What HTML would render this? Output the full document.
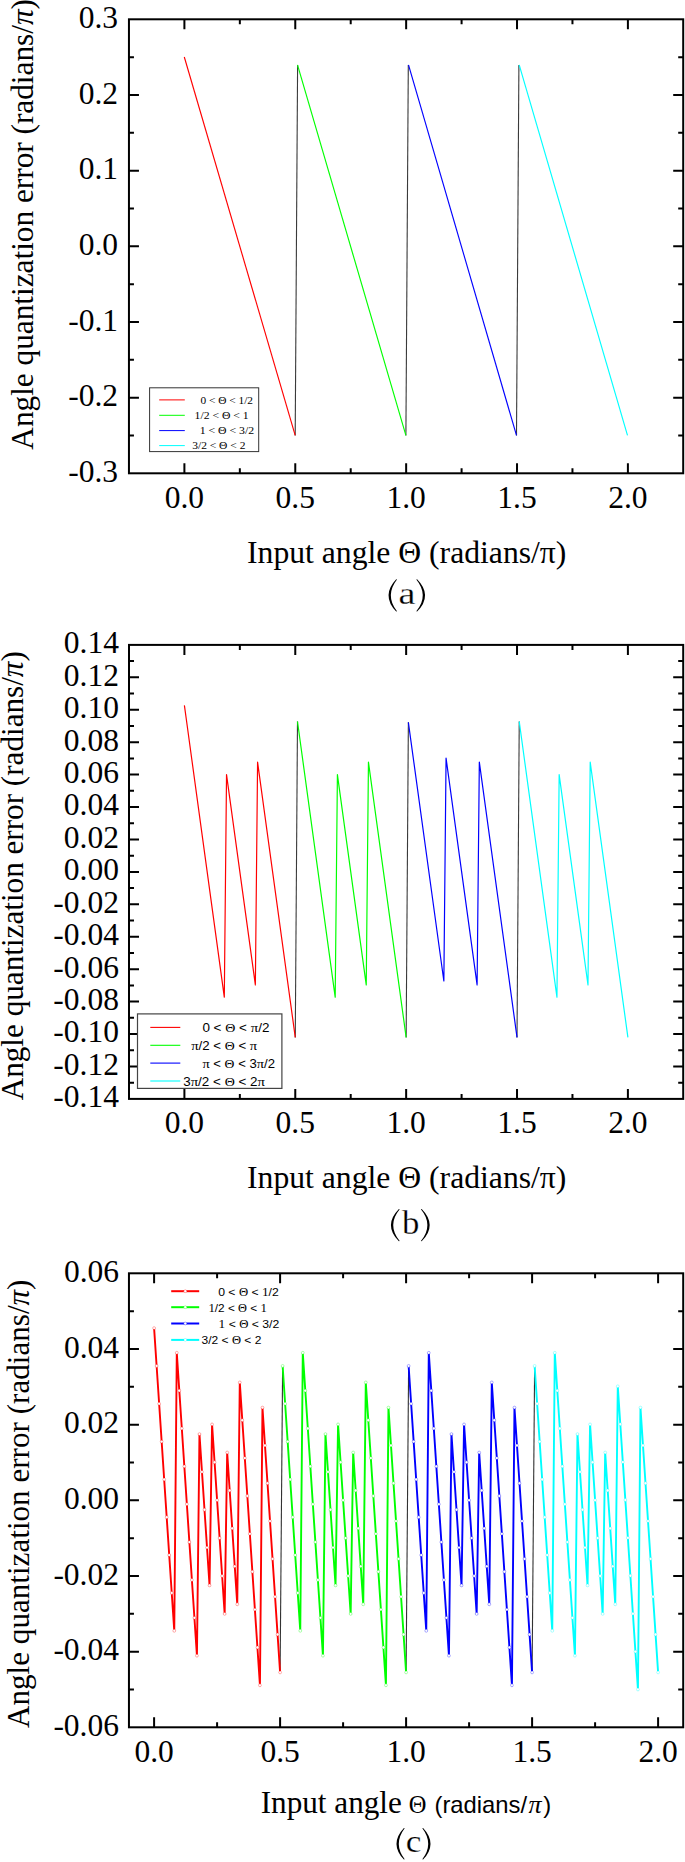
<!DOCTYPE html><html><head><meta charset="utf-8"><title>Angle quantization error</title><style>html,body{margin:0;padding:0;background:#fff;}svg{display:block;}</style></head><body>
<svg width="685" height="1862" viewBox="0 0 685 1862">
<rect width="685" height="1862" fill="#fff"/>
<rect x="128.95" y="19.3" width="554.25" height="454" fill="none" stroke="#000" stroke-width="2.0"/>
<path d="M184.4 19.3v10M184.4 473.3v-10M295.27 19.3v10M295.27 473.3v-10M406.15 19.3v10M406.15 473.3v-10M517.02 19.3v10M517.02 473.3v-10M627.9 19.3v10M627.9 473.3v-10M239.84 19.3v5M239.84 473.3v-5M350.71 19.3v5M350.71 473.3v-5M461.59 19.3v5M461.59 473.3v-5M572.46 19.3v5M572.46 473.3v-5M128.95 397.63h10M683.2 397.63h-10M128.95 321.97h10M683.2 321.97h-10M128.95 246.3h10M683.2 246.3h-10M128.95 170.63h10M683.2 170.63h-10M128.95 94.97h10M683.2 94.97h-10M128.95 435.47h5M683.2 435.47h-5M128.95 359.8h5M683.2 359.8h-5M128.95 284.13h5M683.2 284.13h-5M128.95 208.47h5M683.2 208.47h-5M128.95 132.8h5M683.2 132.8h-5M128.95 57.13h5M683.2 57.13h-5" stroke="#000" stroke-width="2.0" fill="none"/>
<g font-family="Liberation Serif, serif" font-size="31.5" fill="#000"><text x="118.1" y="482" text-anchor="end">-0.3</text><text x="118.1" y="406.33" text-anchor="end">-0.2</text><text x="118.1" y="330.67" text-anchor="end">-0.1</text><text x="118.1" y="255" text-anchor="end">0.0</text><text x="118.1" y="179.33" text-anchor="end">0.1</text><text x="118.1" y="103.67" text-anchor="end">0.2</text><text x="118.1" y="28" text-anchor="end">0.3</text></g>
<g font-family="Liberation Serif, serif" font-size="31.5" fill="#000"><text x="184.4" y="508.3" text-anchor="middle">0.0</text><text x="295.27" y="508.3" text-anchor="middle">0.5</text><text x="406.15" y="508.3" text-anchor="middle">1.0</text><text x="517.02" y="508.3" text-anchor="middle">1.5</text><text x="627.9" y="508.3" text-anchor="middle">2.0</text></g>
<text transform="translate(32.5 449.7) rotate(-90)" font-family="Liberation Serif, serif" font-size="31.3" textLength="450.7" lengthAdjust="spacingAndGlyphs">Angle quantization error (radians/<tspan font-style="italic">&#960;</tspan>)</text>
<text x="247.0" y="562.8" font-family="Liberation Serif, serif" font-size="32.5" textLength="319.4" lengthAdjust="spacingAndGlyphs">Input angle &#920; (radians/&#960;)</text>
<path d="M396.2 579.2 Q380.8 595.4 396.2 611.6 L397 611.3 Q384.6 595.4 397 579.5 Z" fill="#000"/><path d="M417.1 579.2 Q433.1 595.4 417.1 611.6 L416.3 611.3 Q429.3 595.4 416.3 579.5 Z" fill="#000"/><text transform="translate(398.5 603.6) scale(1.19 1)" font-family="Liberation Serif, serif" font-size="32.1" fill="#000" stroke="#fff" stroke-width="0.25">a</text>
<line x1="295.2" y1="435.4" x2="297.6" y2="64.9" stroke="#3a3a3a" stroke-width="1.1"/>
<line x1="405.9" y1="435.4" x2="408.3" y2="64.9" stroke="#3a3a3a" stroke-width="1.1"/>
<line x1="516.5" y1="435.4" x2="518.9" y2="64.9" stroke="#3a3a3a" stroke-width="1.1"/>
<polyline points="184.3,57 295.2,435.4" fill="none" stroke="#ff0000" stroke-width="1.15" stroke-linejoin="round"/>
<polyline points="297.5,64.9 405.9,435.4" fill="none" stroke="#00ff00" stroke-width="1.15" stroke-linejoin="round"/>
<polyline points="408.5,64.9 516.5,435.4" fill="none" stroke="#0000ff" stroke-width="1.15" stroke-linejoin="round"/>
<polyline points="519.2,64.9 627.5,435.4" fill="none" stroke="#00ffff" stroke-width="1.15" stroke-linejoin="round"/>
<rect x="149.6" y="387.8" width="109.1" height="63.8" fill="#fff" stroke="#333" stroke-width="1"/>
<line x1="159.2" y1="399.9" x2="184.8" y2="399.9" stroke="#ff0000" stroke-width="1.0"/>
<line x1="159.2" y1="415.3" x2="184.8" y2="415.3" stroke="#00ff00" stroke-width="1.0"/>
<line x1="159.2" y1="430.6" x2="184.8" y2="430.6" stroke="#0000ff" stroke-width="1.0"/>
<line x1="159.2" y1="445.6" x2="184.8" y2="445.6" stroke="#00ffff" stroke-width="1.0"/>
<text x="200.4" y="403.7" font-family="Liberation Serif, serif" font-size="11" textLength="52.6" lengthAdjust="spacingAndGlyphs">0 &lt; &#920; &lt; 1/2</text>
<text x="194.6" y="419.1" font-family="Liberation Serif, serif" font-size="11" textLength="54.1" lengthAdjust="spacingAndGlyphs">1/2 &lt; &#920; &lt; 1</text>
<text x="199.7" y="434.4" font-family="Liberation Serif, serif" font-size="11" textLength="54.4" lengthAdjust="spacingAndGlyphs">1 &lt; &#920; &lt; 3/2</text>
<text x="192.2" y="449.4" font-family="Liberation Serif, serif" font-size="11" textLength="53.2" lengthAdjust="spacingAndGlyphs">3/2 &lt; &#920; &lt; 2</text>
<rect x="129" y="644.9" width="554.2" height="454" fill="none" stroke="#000" stroke-width="2.0"/>
<path d="M184.4 644.9v10M184.4 1098.9v-10M295.27 644.9v10M295.27 1098.9v-10M406.15 644.9v10M406.15 1098.9v-10M517.02 644.9v10M517.02 1098.9v-10M627.9 644.9v10M627.9 1098.9v-10M239.84 644.9v5M239.84 1098.9v-5M350.71 644.9v5M350.71 1098.9v-5M461.59 644.9v5M461.59 1098.9v-5M572.46 644.9v5M572.46 1098.9v-5M129 1066.47h10M683.2 1066.47h-10M129 1034.04h10M683.2 1034.04h-10M129 1001.61h10M683.2 1001.61h-10M129 969.19h10M683.2 969.19h-10M129 936.76h10M683.2 936.76h-10M129 904.33h10M683.2 904.33h-10M129 871.9h10M683.2 871.9h-10M129 839.47h10M683.2 839.47h-10M129 807.04h10M683.2 807.04h-10M129 774.61h10M683.2 774.61h-10M129 742.19h10M683.2 742.19h-10M129 709.76h10M683.2 709.76h-10M129 677.33h10M683.2 677.33h-10M129 1082.69h5M683.2 1082.69h-5M129 1050.26h5M683.2 1050.26h-5M129 1017.83h5M683.2 1017.83h-5M129 985.4h5M683.2 985.4h-5M129 952.97h5M683.2 952.97h-5M129 920.54h5M683.2 920.54h-5M129 888.11h5M683.2 888.11h-5M129 855.69h5M683.2 855.69h-5M129 823.26h5M683.2 823.26h-5M129 790.83h5M683.2 790.83h-5M129 758.4h5M683.2 758.4h-5M129 725.97h5M683.2 725.97h-5M129 693.54h5M683.2 693.54h-5M129 661.11h5M683.2 661.11h-5" stroke="#000" stroke-width="2.0" fill="none"/>
<g font-family="Liberation Serif, serif" font-size="31.5" fill="#000"><text x="118.9" y="1107.3" text-anchor="end">-0.14</text><text x="118.9" y="1074.87" text-anchor="end">-0.12</text><text x="118.9" y="1042.44" text-anchor="end">-0.10</text><text x="118.9" y="1010.01" text-anchor="end">-0.08</text><text x="118.9" y="977.59" text-anchor="end">-0.06</text><text x="118.9" y="945.16" text-anchor="end">-0.04</text><text x="118.9" y="912.73" text-anchor="end">-0.02</text><text x="118.9" y="880.3" text-anchor="end">0.00</text><text x="118.9" y="847.87" text-anchor="end">0.02</text><text x="118.9" y="815.44" text-anchor="end">0.04</text><text x="118.9" y="783.01" text-anchor="end">0.06</text><text x="118.9" y="750.59" text-anchor="end">0.08</text><text x="118.9" y="718.16" text-anchor="end">0.10</text><text x="118.9" y="685.73" text-anchor="end">0.12</text><text x="118.9" y="653.3" text-anchor="end">0.14</text></g>
<g font-family="Liberation Serif, serif" font-size="31.5" fill="#000"><text x="184.4" y="1133" text-anchor="middle">0.0</text><text x="295.27" y="1133" text-anchor="middle">0.5</text><text x="406.15" y="1133" text-anchor="middle">1.0</text><text x="517.02" y="1133" text-anchor="middle">1.5</text><text x="627.9" y="1133" text-anchor="middle">2.0</text></g>
<text transform="translate(23.4 1100.3) rotate(-90)" font-family="Liberation Serif, serif" font-size="31.3" textLength="449.2" lengthAdjust="spacingAndGlyphs">Angle quantization error (radians/<tspan font-style="italic">&#960;</tspan>)</text>
<text x="247.0" y="1188.2" font-family="Liberation Serif, serif" font-size="32.5" textLength="319.4" lengthAdjust="spacingAndGlyphs">Input angle &#920; (radians/&#960;)</text>
<path d="M398.9 1208.9 Q382.9 1225.1 398.9 1241.3 L399.7 1241 Q386.7 1225.1 399.7 1209.2 Z" fill="#000"/><path d="M421.7 1208.9 Q437.7 1225.1 421.7 1241.3 L420.9 1241 Q433.9 1225.1 420.9 1209.2 Z" fill="#000"/><text transform="translate(402.1 1233.6) scale(1.06 1)" font-family="Liberation Serif, serif" font-size="32.8" fill="#000" stroke="#fff" stroke-width="0.25">b</text>
<line x1="295.27" y1="1037.4" x2="297.49" y2="721.52" stroke="#3a3a3a" stroke-width="1.1"/>
<line x1="406.15" y1="1037.4" x2="408.37" y2="722.3" stroke="#3a3a3a" stroke-width="1.1"/>
<line x1="517.02" y1="1037.4" x2="519.24" y2="721.52" stroke="#3a3a3a" stroke-width="1.1"/>
<polyline points="184.4,705.3 186.62,721.52 224.31,997.2 226.53,774.6 255.36,984.9 257.58,762.2 295.27,1037.4" fill="none" stroke="#ff0000" stroke-width="1.2" stroke-linejoin="round"/>
<polyline points="297.49,721.52 335.19,997.2 337.41,774.6 366.24,984.9 368.45,762.2 406.15,1037.4" fill="none" stroke="#00ff00" stroke-width="1.2" stroke-linejoin="round"/>
<polyline points="408.37,722.3 443.85,981 446.06,758.1 477.11,984.9 479.33,762.2 517.02,1037.4" fill="none" stroke="#0000ff" stroke-width="1.2" stroke-linejoin="round"/>
<polyline points="519.24,721.52 556.94,997.2 559.16,774.6 587.99,984.9 590.2,762.2 627.9,1037.4" fill="none" stroke="#00ffff" stroke-width="1.2" stroke-linejoin="round"/>
<rect x="137.5" y="1013.9" width="144.4" height="74.5" fill="#fff" stroke="#444" stroke-width="1.2"/>
<line x1="150.3" y1="1027.4" x2="180.3" y2="1027.4" stroke="#ff0000" stroke-width="1.1"/>
<line x1="150.3" y1="1045.3" x2="180.3" y2="1045.3" stroke="#00ff00" stroke-width="1.1"/>
<line x1="150.3" y1="1063.1" x2="180.3" y2="1063.1" stroke="#0000ff" stroke-width="1.1"/>
<line x1="150.3" y1="1081" x2="180.3" y2="1081" stroke="#00ffff" stroke-width="1.1"/>
<text x="202.4" y="1031.9" font-family="Liberation Sans, sans-serif" font-size="12.3" textLength="67" lengthAdjust="spacingAndGlyphs">0 &lt; <tspan font-family="Liberation Serif, serif" font-size="12.8">&#920;</tspan> &lt; <tspan font-family="Liberation Serif, serif" font-size="13.5">&#960;</tspan>/2</text>
<text x="191.2" y="1049.8" font-family="Liberation Sans, sans-serif" font-size="12.3" textLength="66" lengthAdjust="spacingAndGlyphs"><tspan font-family="Liberation Serif, serif" font-size="13.5">&#960;</tspan>/2 &lt; <tspan font-family="Liberation Serif, serif" font-size="12.8">&#920;</tspan> &lt; <tspan font-family="Liberation Serif, serif" font-size="13.5">&#960;</tspan></text>
<text x="202.4" y="1067.6" font-family="Liberation Sans, sans-serif" font-size="12.3" textLength="72.6" lengthAdjust="spacingAndGlyphs"><tspan font-family="Liberation Serif, serif" font-size="13.5">&#960;</tspan> &lt; <tspan font-family="Liberation Serif, serif" font-size="12.8">&#920;</tspan> &lt; 3<tspan font-family="Liberation Serif, serif" font-size="13.5">&#960;</tspan>/2</text>
<text x="183.2" y="1085.5" font-family="Liberation Sans, sans-serif" font-size="12.3" textLength="81.8" lengthAdjust="spacingAndGlyphs">3<tspan font-family="Liberation Serif, serif" font-size="13.5">&#960;</tspan>/2 &lt; <tspan font-family="Liberation Serif, serif" font-size="12.8">&#920;</tspan> &lt; 2<tspan font-family="Liberation Serif, serif" font-size="13.5">&#960;</tspan></text>
<rect x="128.95" y="1273.3" width="554.25" height="454" fill="none" stroke="#000" stroke-width="2.0"/>
<path d="M154.1 1273.3v10M154.1 1727.3v-10M280.1 1273.3v10M280.1 1727.3v-10M406.1 1273.3v10M406.1 1727.3v-10M532.1 1273.3v10M532.1 1727.3v-10M658.1 1273.3v10M658.1 1727.3v-10M217.1 1273.3v5M217.1 1727.3v-5M343.1 1273.3v5M343.1 1727.3v-5M469.1 1273.3v5M469.1 1727.3v-5M595.1 1273.3v5M595.1 1727.3v-5M128.95 1651.63h10M683.2 1651.63h-10M128.95 1575.97h10M683.2 1575.97h-10M128.95 1500.3h10M683.2 1500.3h-10M128.95 1424.63h10M683.2 1424.63h-10M128.95 1348.97h10M683.2 1348.97h-10M128.95 1689.47h5M683.2 1689.47h-5M128.95 1613.8h5M683.2 1613.8h-5M128.95 1538.13h5M683.2 1538.13h-5M128.95 1462.47h5M683.2 1462.47h-5M128.95 1386.8h5M683.2 1386.8h-5M128.95 1311.13h5M683.2 1311.13h-5" stroke="#000" stroke-width="2.0" fill="none"/>
<g font-family="Liberation Serif, serif" font-size="31.5" fill="#000"><text x="119" y="1736" text-anchor="end">-0.06</text><text x="119" y="1660.33" text-anchor="end">-0.04</text><text x="119" y="1584.67" text-anchor="end">-0.02</text><text x="119" y="1509" text-anchor="end">0.00</text><text x="119" y="1433.33" text-anchor="end">0.02</text><text x="119" y="1357.67" text-anchor="end">0.04</text><text x="119" y="1282" text-anchor="end">0.06</text></g>
<g font-family="Liberation Serif, serif" font-size="31.5" fill="#000"><text x="154.1" y="1761.5" text-anchor="middle">0.0</text><text x="280.1" y="1761.5" text-anchor="middle">0.5</text><text x="406.1" y="1761.5" text-anchor="middle">1.0</text><text x="532.1" y="1761.5" text-anchor="middle">1.5</text><text x="658.1" y="1761.5" text-anchor="middle">2.0</text></g>
<text transform="translate(29.2 1728) rotate(-90)" font-family="Liberation Serif, serif" font-size="31.3" textLength="448.5" lengthAdjust="spacingAndGlyphs">Angle quantization error (radians/<tspan font-style="italic">&#960;</tspan>)</text>
<text x="260.7" y="1812.7" font-family="Liberation Serif, serif" font-size="31.2">Input angle</text>
<text x="408.8" y="1812.7" font-family="Liberation Serif, serif" font-size="24.5">&#920;</text>
<text x="434.5" y="1812.7" font-family="Liberation Sans, sans-serif" font-size="23.8">(radians/<tspan dx="1.5" font-family="Liberation Serif, serif" font-style="italic" font-size="26">&#960;</tspan><tspan dx="1.5">)</tspan></text>
<path d="M403.9 1827.9 Q389.1 1843.75 403.9 1859.6 L404.7 1859.3 Q392.9 1843.75 404.7 1828.2 Z" fill="#000"/><path d="M423.1 1827.9 Q437.9 1843.75 423.1 1859.6 L422.3 1859.3 Q434.1 1843.75 422.3 1828.2 Z" fill="#000"/><text transform="translate(405.8 1852.3) scale(1.096 1)" font-family="Liberation Serif, serif" font-size="32.1" fill="#000" stroke="#fff" stroke-width="0.25">c</text>
<line x1="280.1" y1="1672.4" x2="282.62" y2="1365.94" stroke="#333" stroke-width="1.1"/>
<line x1="406.1" y1="1672.4" x2="408.62" y2="1365.94" stroke="#333" stroke-width="1.1"/>
<line x1="532.1" y1="1672.4" x2="534.62" y2="1365.94" stroke="#333" stroke-width="1.1"/>
<polyline points="154.1,1328.1 156.62,1365.94 159.14,1403.77 161.66,1441.61 164.18,1479.45 166.7,1517.29 169.22,1555.12 171.74,1592.96 174.26,1630.8 176.78,1352.8 179.3,1390.66 181.82,1428.53 184.34,1466.39 186.86,1504.25 189.38,1542.11 191.9,1579.97 194.42,1617.84 196.94,1655.7 199.46,1434.1 201.98,1471.92 204.5,1509.75 207.02,1547.58 209.54,1585.4 212.06,1424.4 214.58,1462.3 217.1,1500.2 219.62,1538.1 222.14,1576 224.66,1613.9 227.18,1452.5 229.7,1490.45 232.22,1528.4 234.74,1566.35 237.26,1604.3 239.78,1382.4 242.3,1420.26 244.82,1458.12 247.34,1495.99 249.86,1533.85 252.38,1571.71 254.9,1609.58 257.42,1647.44 259.94,1685.3 262.46,1407.6 264.98,1445.43 267.5,1483.26 270.02,1521.09 272.54,1558.91 275.06,1596.74 277.58,1634.57 280.1,1672.4" fill="none" stroke="#ff0000" stroke-width="1.9" stroke-linejoin="round"/>
<polyline points="282.62,1365.94 285.14,1403.77 287.66,1441.61 290.18,1479.45 292.7,1517.29 295.22,1555.12 297.74,1592.96 300.26,1630.8 302.78,1352.8 305.3,1390.66 307.82,1428.53 310.34,1466.39 312.86,1504.25 315.38,1542.11 317.9,1579.97 320.42,1617.84 322.94,1655.7 325.46,1434.1 327.98,1471.92 330.5,1509.75 333.02,1547.58 335.54,1585.4 338.06,1424.4 340.58,1462.3 343.1,1500.2 345.62,1538.1 348.14,1576 350.66,1613.9 353.18,1452.5 355.7,1490.45 358.22,1528.4 360.74,1566.35 363.26,1604.3 365.78,1382.4 368.3,1420.26 370.82,1458.12 373.34,1495.99 375.86,1533.85 378.38,1571.71 380.9,1609.58 383.42,1647.44 385.94,1685.3 388.46,1407.6 390.98,1445.43 393.5,1483.26 396.02,1521.09 398.54,1558.91 401.06,1596.74 403.58,1634.57 406.1,1672.4" fill="none" stroke="#00ff00" stroke-width="1.9" stroke-linejoin="round"/>
<polyline points="408.62,1365.94 411.14,1403.77 413.66,1441.61 416.18,1479.45 418.7,1517.29 421.22,1555.12 423.74,1592.96 426.26,1630.8 428.78,1352.8 431.3,1390.66 433.82,1428.53 436.34,1466.39 438.86,1504.25 441.38,1542.11 443.9,1579.97 446.42,1617.84 448.94,1655.7 451.46,1434.1 453.98,1471.92 456.5,1509.75 459.02,1547.58 461.54,1585.4 464.06,1424.4 466.58,1462.3 469.1,1500.2 471.62,1538.1 474.14,1576 476.66,1613.9 479.18,1452.5 481.7,1490.45 484.22,1528.4 486.74,1566.35 489.26,1604.3 491.78,1382.4 494.3,1420.26 496.82,1458.12 499.34,1495.99 501.86,1533.85 504.38,1571.71 506.9,1609.58 509.42,1647.44 511.94,1685.3 514.46,1407.6 516.98,1445.43 519.5,1483.26 522.02,1521.09 524.54,1558.91 527.06,1596.74 529.58,1634.57 532.1,1672.4" fill="none" stroke="#0000ff" stroke-width="1.9" stroke-linejoin="round"/>
<polyline points="534.62,1365.94 537.14,1403.77 539.66,1441.61 542.18,1479.45 544.7,1517.29 547.22,1555.12 549.74,1592.96 552.26,1630.8 554.78,1352.8 557.3,1390.66 559.82,1428.53 562.34,1466.39 564.86,1504.25 567.38,1542.11 569.9,1579.97 572.42,1617.84 574.94,1655.7 577.46,1434.1 579.98,1471.92 582.5,1509.75 585.02,1547.58 587.54,1585.4 590.06,1424.4 592.58,1462.3 595.1,1500.2 597.62,1538.1 600.14,1576 602.66,1613.9 605.18,1452.5 607.7,1490.45 610.22,1528.4 612.74,1566.35 615.26,1604.3 617.78,1386.3 620.3,1424.2 622.82,1462.1 625.34,1500 627.86,1537.9 630.38,1575.8 632.9,1613.7 635.42,1651.6 637.94,1689.5 640.46,1407.6 642.98,1445.43 645.5,1483.26 648.02,1521.09 650.54,1558.91 653.06,1596.74 655.58,1634.57 658.1,1672.4" fill="none" stroke="#00ffff" stroke-width="1.9" stroke-linejoin="round"/>
<g fill="#fff" stroke="#ff0000" stroke-width="0.5" stroke-opacity="0.6"><circle cx="154.1" cy="1328.1" r="1.45"/><circle cx="156.62" cy="1365.94" r="1.45"/><circle cx="159.14" cy="1403.77" r="1.45"/><circle cx="161.66" cy="1441.61" r="1.45"/><circle cx="164.18" cy="1479.45" r="1.45"/><circle cx="166.7" cy="1517.29" r="1.45"/><circle cx="169.22" cy="1555.12" r="1.45"/><circle cx="171.74" cy="1592.96" r="1.45"/><circle cx="174.26" cy="1630.8" r="1.45"/><circle cx="176.78" cy="1352.8" r="1.45"/><circle cx="179.3" cy="1390.66" r="1.45"/><circle cx="181.82" cy="1428.53" r="1.45"/><circle cx="184.34" cy="1466.39" r="1.45"/><circle cx="186.86" cy="1504.25" r="1.45"/><circle cx="189.38" cy="1542.11" r="1.45"/><circle cx="191.9" cy="1579.97" r="1.45"/><circle cx="194.42" cy="1617.84" r="1.45"/><circle cx="196.94" cy="1655.7" r="1.45"/><circle cx="199.46" cy="1434.1" r="1.45"/><circle cx="201.98" cy="1471.92" r="1.45"/><circle cx="204.5" cy="1509.75" r="1.45"/><circle cx="207.02" cy="1547.58" r="1.45"/><circle cx="209.54" cy="1585.4" r="1.45"/><circle cx="212.06" cy="1424.4" r="1.45"/><circle cx="214.58" cy="1462.3" r="1.45"/><circle cx="217.1" cy="1500.2" r="1.45"/><circle cx="219.62" cy="1538.1" r="1.45"/><circle cx="222.14" cy="1576" r="1.45"/><circle cx="224.66" cy="1613.9" r="1.45"/><circle cx="227.18" cy="1452.5" r="1.45"/><circle cx="229.7" cy="1490.45" r="1.45"/><circle cx="232.22" cy="1528.4" r="1.45"/><circle cx="234.74" cy="1566.35" r="1.45"/><circle cx="237.26" cy="1604.3" r="1.45"/><circle cx="239.78" cy="1382.4" r="1.45"/><circle cx="242.3" cy="1420.26" r="1.45"/><circle cx="244.82" cy="1458.12" r="1.45"/><circle cx="247.34" cy="1495.99" r="1.45"/><circle cx="249.86" cy="1533.85" r="1.45"/><circle cx="252.38" cy="1571.71" r="1.45"/><circle cx="254.9" cy="1609.58" r="1.45"/><circle cx="257.42" cy="1647.44" r="1.45"/><circle cx="259.94" cy="1685.3" r="1.45"/><circle cx="262.46" cy="1407.6" r="1.45"/><circle cx="264.98" cy="1445.43" r="1.45"/><circle cx="267.5" cy="1483.26" r="1.45"/><circle cx="270.02" cy="1521.09" r="1.45"/><circle cx="272.54" cy="1558.91" r="1.45"/><circle cx="275.06" cy="1596.74" r="1.45"/><circle cx="277.58" cy="1634.57" r="1.45"/><circle cx="280.1" cy="1672.4" r="1.45"/></g>
<g fill="#fff" stroke="#00ff00" stroke-width="0.5" stroke-opacity="0.6"><circle cx="282.62" cy="1365.94" r="1.45"/><circle cx="285.14" cy="1403.77" r="1.45"/><circle cx="287.66" cy="1441.61" r="1.45"/><circle cx="290.18" cy="1479.45" r="1.45"/><circle cx="292.7" cy="1517.29" r="1.45"/><circle cx="295.22" cy="1555.12" r="1.45"/><circle cx="297.74" cy="1592.96" r="1.45"/><circle cx="300.26" cy="1630.8" r="1.45"/><circle cx="302.78" cy="1352.8" r="1.45"/><circle cx="305.3" cy="1390.66" r="1.45"/><circle cx="307.82" cy="1428.53" r="1.45"/><circle cx="310.34" cy="1466.39" r="1.45"/><circle cx="312.86" cy="1504.25" r="1.45"/><circle cx="315.38" cy="1542.11" r="1.45"/><circle cx="317.9" cy="1579.97" r="1.45"/><circle cx="320.42" cy="1617.84" r="1.45"/><circle cx="322.94" cy="1655.7" r="1.45"/><circle cx="325.46" cy="1434.1" r="1.45"/><circle cx="327.98" cy="1471.92" r="1.45"/><circle cx="330.5" cy="1509.75" r="1.45"/><circle cx="333.02" cy="1547.58" r="1.45"/><circle cx="335.54" cy="1585.4" r="1.45"/><circle cx="338.06" cy="1424.4" r="1.45"/><circle cx="340.58" cy="1462.3" r="1.45"/><circle cx="343.1" cy="1500.2" r="1.45"/><circle cx="345.62" cy="1538.1" r="1.45"/><circle cx="348.14" cy="1576" r="1.45"/><circle cx="350.66" cy="1613.9" r="1.45"/><circle cx="353.18" cy="1452.5" r="1.45"/><circle cx="355.7" cy="1490.45" r="1.45"/><circle cx="358.22" cy="1528.4" r="1.45"/><circle cx="360.74" cy="1566.35" r="1.45"/><circle cx="363.26" cy="1604.3" r="1.45"/><circle cx="365.78" cy="1382.4" r="1.45"/><circle cx="368.3" cy="1420.26" r="1.45"/><circle cx="370.82" cy="1458.12" r="1.45"/><circle cx="373.34" cy="1495.99" r="1.45"/><circle cx="375.86" cy="1533.85" r="1.45"/><circle cx="378.38" cy="1571.71" r="1.45"/><circle cx="380.9" cy="1609.58" r="1.45"/><circle cx="383.42" cy="1647.44" r="1.45"/><circle cx="385.94" cy="1685.3" r="1.45"/><circle cx="388.46" cy="1407.6" r="1.45"/><circle cx="390.98" cy="1445.43" r="1.45"/><circle cx="393.5" cy="1483.26" r="1.45"/><circle cx="396.02" cy="1521.09" r="1.45"/><circle cx="398.54" cy="1558.91" r="1.45"/><circle cx="401.06" cy="1596.74" r="1.45"/><circle cx="403.58" cy="1634.57" r="1.45"/><circle cx="406.1" cy="1672.4" r="1.45"/></g>
<g fill="#fff" stroke="#0000ff" stroke-width="0.5" stroke-opacity="0.6"><circle cx="408.62" cy="1365.94" r="1.45"/><circle cx="411.14" cy="1403.77" r="1.45"/><circle cx="413.66" cy="1441.61" r="1.45"/><circle cx="416.18" cy="1479.45" r="1.45"/><circle cx="418.7" cy="1517.29" r="1.45"/><circle cx="421.22" cy="1555.12" r="1.45"/><circle cx="423.74" cy="1592.96" r="1.45"/><circle cx="426.26" cy="1630.8" r="1.45"/><circle cx="428.78" cy="1352.8" r="1.45"/><circle cx="431.3" cy="1390.66" r="1.45"/><circle cx="433.82" cy="1428.53" r="1.45"/><circle cx="436.34" cy="1466.39" r="1.45"/><circle cx="438.86" cy="1504.25" r="1.45"/><circle cx="441.38" cy="1542.11" r="1.45"/><circle cx="443.9" cy="1579.97" r="1.45"/><circle cx="446.42" cy="1617.84" r="1.45"/><circle cx="448.94" cy="1655.7" r="1.45"/><circle cx="451.46" cy="1434.1" r="1.45"/><circle cx="453.98" cy="1471.92" r="1.45"/><circle cx="456.5" cy="1509.75" r="1.45"/><circle cx="459.02" cy="1547.58" r="1.45"/><circle cx="461.54" cy="1585.4" r="1.45"/><circle cx="464.06" cy="1424.4" r="1.45"/><circle cx="466.58" cy="1462.3" r="1.45"/><circle cx="469.1" cy="1500.2" r="1.45"/><circle cx="471.62" cy="1538.1" r="1.45"/><circle cx="474.14" cy="1576" r="1.45"/><circle cx="476.66" cy="1613.9" r="1.45"/><circle cx="479.18" cy="1452.5" r="1.45"/><circle cx="481.7" cy="1490.45" r="1.45"/><circle cx="484.22" cy="1528.4" r="1.45"/><circle cx="486.74" cy="1566.35" r="1.45"/><circle cx="489.26" cy="1604.3" r="1.45"/><circle cx="491.78" cy="1382.4" r="1.45"/><circle cx="494.3" cy="1420.26" r="1.45"/><circle cx="496.82" cy="1458.12" r="1.45"/><circle cx="499.34" cy="1495.99" r="1.45"/><circle cx="501.86" cy="1533.85" r="1.45"/><circle cx="504.38" cy="1571.71" r="1.45"/><circle cx="506.9" cy="1609.58" r="1.45"/><circle cx="509.42" cy="1647.44" r="1.45"/><circle cx="511.94" cy="1685.3" r="1.45"/><circle cx="514.46" cy="1407.6" r="1.45"/><circle cx="516.98" cy="1445.43" r="1.45"/><circle cx="519.5" cy="1483.26" r="1.45"/><circle cx="522.02" cy="1521.09" r="1.45"/><circle cx="524.54" cy="1558.91" r="1.45"/><circle cx="527.06" cy="1596.74" r="1.45"/><circle cx="529.58" cy="1634.57" r="1.45"/><circle cx="532.1" cy="1672.4" r="1.45"/></g>
<g fill="#fff" stroke="#00ffff" stroke-width="0.5" stroke-opacity="0.6"><circle cx="534.62" cy="1365.94" r="1.45"/><circle cx="537.14" cy="1403.77" r="1.45"/><circle cx="539.66" cy="1441.61" r="1.45"/><circle cx="542.18" cy="1479.45" r="1.45"/><circle cx="544.7" cy="1517.29" r="1.45"/><circle cx="547.22" cy="1555.12" r="1.45"/><circle cx="549.74" cy="1592.96" r="1.45"/><circle cx="552.26" cy="1630.8" r="1.45"/><circle cx="554.78" cy="1352.8" r="1.45"/><circle cx="557.3" cy="1390.66" r="1.45"/><circle cx="559.82" cy="1428.53" r="1.45"/><circle cx="562.34" cy="1466.39" r="1.45"/><circle cx="564.86" cy="1504.25" r="1.45"/><circle cx="567.38" cy="1542.11" r="1.45"/><circle cx="569.9" cy="1579.97" r="1.45"/><circle cx="572.42" cy="1617.84" r="1.45"/><circle cx="574.94" cy="1655.7" r="1.45"/><circle cx="577.46" cy="1434.1" r="1.45"/><circle cx="579.98" cy="1471.92" r="1.45"/><circle cx="582.5" cy="1509.75" r="1.45"/><circle cx="585.02" cy="1547.58" r="1.45"/><circle cx="587.54" cy="1585.4" r="1.45"/><circle cx="590.06" cy="1424.4" r="1.45"/><circle cx="592.58" cy="1462.3" r="1.45"/><circle cx="595.1" cy="1500.2" r="1.45"/><circle cx="597.62" cy="1538.1" r="1.45"/><circle cx="600.14" cy="1576" r="1.45"/><circle cx="602.66" cy="1613.9" r="1.45"/><circle cx="605.18" cy="1452.5" r="1.45"/><circle cx="607.7" cy="1490.45" r="1.45"/><circle cx="610.22" cy="1528.4" r="1.45"/><circle cx="612.74" cy="1566.35" r="1.45"/><circle cx="615.26" cy="1604.3" r="1.45"/><circle cx="617.78" cy="1386.3" r="1.45"/><circle cx="620.3" cy="1424.2" r="1.45"/><circle cx="622.82" cy="1462.1" r="1.45"/><circle cx="625.34" cy="1500" r="1.45"/><circle cx="627.86" cy="1537.9" r="1.45"/><circle cx="630.38" cy="1575.8" r="1.45"/><circle cx="632.9" cy="1613.7" r="1.45"/><circle cx="635.42" cy="1651.6" r="1.45"/><circle cx="637.94" cy="1689.5" r="1.45"/><circle cx="640.46" cy="1407.6" r="1.45"/><circle cx="642.98" cy="1445.43" r="1.45"/><circle cx="645.5" cy="1483.26" r="1.45"/><circle cx="648.02" cy="1521.09" r="1.45"/><circle cx="650.54" cy="1558.91" r="1.45"/><circle cx="653.06" cy="1596.74" r="1.45"/><circle cx="655.58" cy="1634.57" r="1.45"/><circle cx="658.1" cy="1672.4" r="1.45"/></g>
<line x1="171.2" y1="1291.2" x2="199.2" y2="1291.2" stroke="#ff0000" stroke-width="2.0"/>
<circle cx="185.3" cy="1291.2" r="1.45" fill="#fff" stroke="#ff0000" stroke-width="0.5" stroke-opacity="0.6"/>
<line x1="171.2" y1="1307.2" x2="199.2" y2="1307.2" stroke="#00ff00" stroke-width="2.0"/>
<circle cx="185.3" cy="1307.2" r="1.45" fill="#fff" stroke="#00ff00" stroke-width="0.5" stroke-opacity="0.6"/>
<line x1="171.2" y1="1323.5" x2="199.2" y2="1323.5" stroke="#0000ff" stroke-width="2.0"/>
<circle cx="185.3" cy="1323.5" r="1.45" fill="#fff" stroke="#0000ff" stroke-width="0.5" stroke-opacity="0.6"/>
<line x1="171.2" y1="1339.9" x2="199.2" y2="1339.9" stroke="#00ffff" stroke-width="2.0"/>
<circle cx="185.3" cy="1339.9" r="1.45" fill="#fff" stroke="#00ffff" stroke-width="0.5" stroke-opacity="0.6"/>
<text x="218.2" y="1295.6" font-family="Liberation Sans, sans-serif" font-size="11.5" textLength="60.6" lengthAdjust="spacingAndGlyphs">0 &lt; <tspan font-family="Liberation Serif, serif" font-size="12">&#920;</tspan> &lt; <tspan font-family="Liberation Serif, serif" font-size="12.5">1</tspan>/2</text>
<text x="208.4" y="1312" font-family="Liberation Sans, sans-serif" font-size="11.5" textLength="58.5" lengthAdjust="spacingAndGlyphs"><tspan font-family="Liberation Serif, serif" font-size="12.5">1</tspan>/2 &lt; <tspan font-family="Liberation Serif, serif" font-size="12">&#920;</tspan> &lt; <tspan font-family="Liberation Serif, serif" font-size="12.5">1</tspan></text>
<text x="218.6" y="1328.1" font-family="Liberation Sans, sans-serif" font-size="11.5" textLength="60.7" lengthAdjust="spacingAndGlyphs"><tspan font-family="Liberation Serif, serif" font-size="12.5">1</tspan> &lt; <tspan font-family="Liberation Serif, serif" font-size="12">&#920;</tspan> &lt; 3/2</text>
<text x="201.6" y="1344.2" font-family="Liberation Sans, sans-serif" font-size="11.5" textLength="59.8" lengthAdjust="spacingAndGlyphs">3/2 &lt; <tspan font-family="Liberation Serif, serif" font-size="12">&#920;</tspan> &lt; 2</text>
</svg></body></html>
